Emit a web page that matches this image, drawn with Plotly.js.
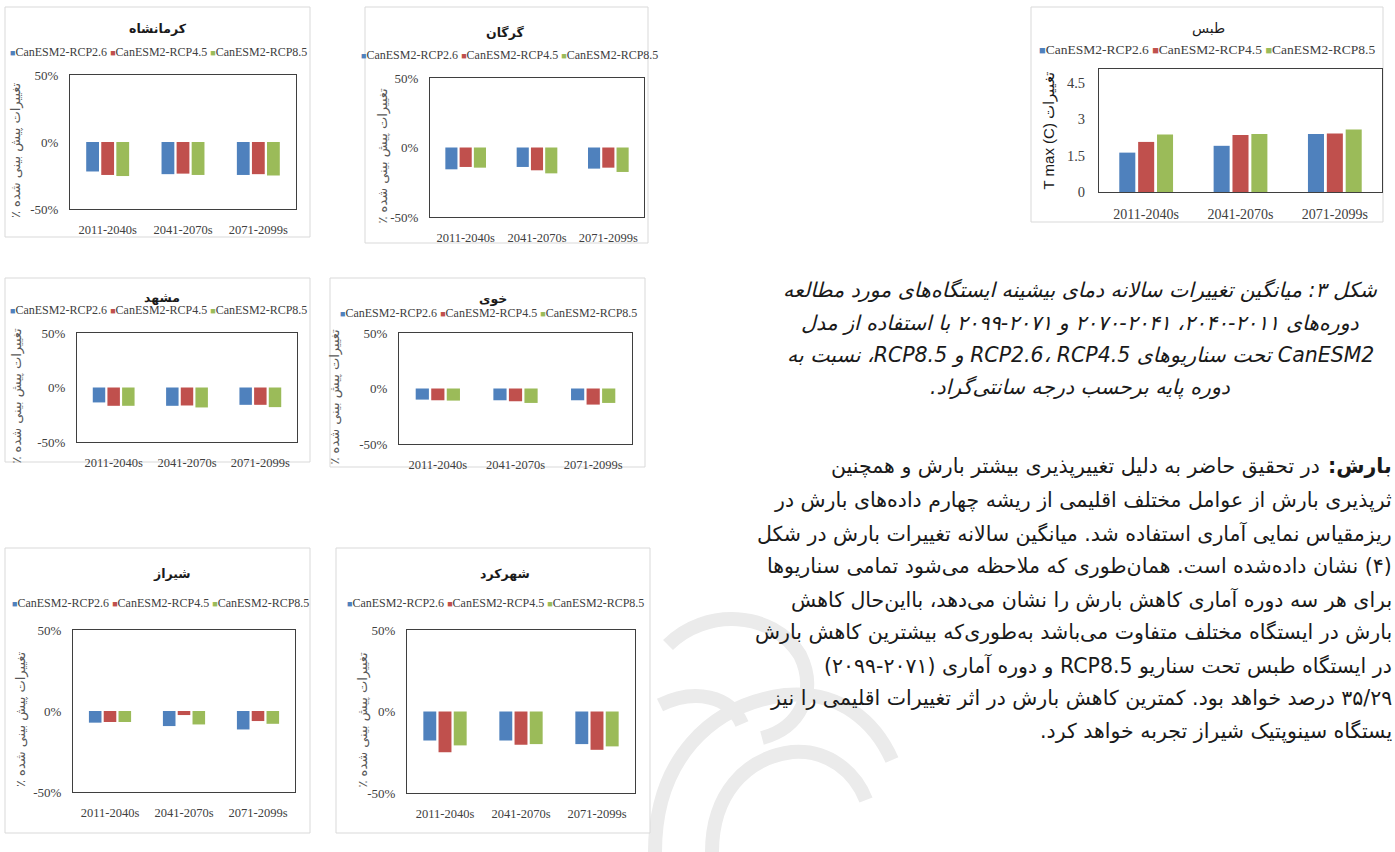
<!DOCTYPE html>
<html><head><meta charset="utf-8">
<script src="https://cdn.plot.ly/plotly-3.0.1.min.js"></script>
<style>html,body{margin:0;padding:0;background:#fff;overflow:hidden}#chart{width:1395px;height:852px}</style>
</head><body><div id="chart"></div>
<script>
const W = 1395, H = 852;

// ---- data ----
const periods = ['2011-2040s', '2041-2070s', '2071-2099s'];
const scenarios = ['CanESM2-RCP2.6', 'CanESM2-RCP4.5', 'CanESM2-RCP8.5'];
// each station: [RCP2.6 values, RCP4.5 values, RCP8.5 values] per period
const kermanshah = [[-22, -24, -24.6], [-24.6, -23.6, -24], [-25.4, -24.6, -25]];
const gorgan     = [[-15.7, -14, -15.2], [-14, -16.4, -14.5], [-14.5, -18.6, -17.6]];
const tabas      = [[1.62, 1.90, 2.39], [2.06, 2.34, 2.41], [2.37, 2.39, 2.57]];
const mashhad    = [[-13.7, -16.8, -15.9], [-16.8, -16.5, -15.9], [-16.8, -18.3, -18]];
const khoy       = [[-10, -10.6, -10.6], [-10.6, -11.5, -14.5], [-10.9, -13, -13]];
const shiraz     = [[-7.2, -9.3, -11.4], [-6.8, -2.5, -6.2], [-6.8, -8.3, -7.9]];
const shahrekord = [[-17.8, -17.8, -20], [-25, -20.4, -23.5], [-20.8, -20, -21.4]];

const pctTickVals = [-50, 0, 50];
const pctTickText = ['-50%', '0%', '50%'];
const tabasTickVals = [0, 1.5, 3, 4.5];
const tabasTickText = ['0', '1.5', '3', '4.5'];

const pctAxisTitle = 'تغییرات پیش بینی شده ٪';
const tabasAxisTitle = 'T max (C) تغییرات';

const captionLines = [
  'شکل ۳: میانگین تغییرات سالانه دمای بیشینه ایستگاه‌های مورد مطالعه',
  'دوره‌های ۲۰۱۱\u200F-\u200F۲۰۴۰، ۲۰۴۱\u200F-\u200F۲۰۷۰ و ۲۰۷۱\u200F-\u200F۲۰۹۹ با استفاده از مدل',
  'CanESM2 تحت سناریوهای RCP2.6، RCP4.5 و RCP8.5، نسبت به',
  'دوره پایه برحسب درجه سانتی‌گراد.'
];
const bodyLead = 'بارش:';
const bodyLines = [
  'در تحقیق حاضر به دلیل تغییرپذیری بیشتر بارش و همچنین',
  'ثرپذیری بارش از عوامل مختلف اقلیمی از ریشه چهارم داده‌های بارش در',
  'ریزمقیاس نمایی آماری استفاده شد. میانگین سالانه تغییرات بارش در شکل',
  '(۴) نشان داده‌شده است. همان‌طوری که ملاحظه می‌شود تمامی سناریوها',
  'برای هر سه دوره آماری کاهش بارش را نشان می‌دهد، بااین‌حال کاهش',
  'بارش در ایستگاه مختلف متفاوت می‌باشد به‌طوری‌که بیشترین کاهش بارش',
  'در ایستگاه طبس تحت سناریو RCP8.5 و دوره آماری (۲۰۷۱\u200F-\u200F۲۰۹۹)',
  '۳۵/۲۹ درصد خواهد بود. کمترین کاهش بارش در اثر تغییرات اقلیمی را نیز',
  'یستگاه سینوپتیک شیراز تجربه خواهد کرد.'
];

// ---- layout config (positions in px) ----
const colors = ['#4F81BD', '#C0504D', '#9BBB59'];
const panels = [
  {title: 'کرمانشاه', data: kermanshah, plot: [70, 75, 296, 209], card: [5, 7, 310, 237], tx: 158, ty: 28, lx: 158, ly: 52, yt: 16, pct: true},
  {title: 'گرگان', data: gorgan, plot: [430, 78, 644, 217], card: [365, 7, 648, 243], tx: 505, ty: 33, lx: 509, ly: 55, yt: 382, pct: true},
  {title: 'طبس', data: tabas, plot: [1099, 69, 1382, 192], card: [1031, 7, 1383, 222], tx: 1208, ty: 29, lx: 1207, ly: 50, yt: 1049, pct: false},
  {title: 'مشهد', data: mashhad, plot: [77, 333, 297, 442], card: [5, 278, 310, 462], tx: 162, ty: 297, lx: 158, ly: 310, yt: 17, pct: true},
  {title: 'خوی', data: khoy, plot: [399, 333, 632, 444], card: [330, 278, 645, 467], tx: 493, ty: 298, lx: 488, ly: 313, yt: 334, pct: true},
  {title: 'شیراز', data: shiraz, plot: [73, 630, 295, 792], card: [5, 548, 310, 833], tx: 172, ty: 573, lx: 160, ly: 603, yt: 21, pct: true},
  {title: 'شهرکرد', data: shahrekord, plot: [407, 630, 635, 793], card: [336, 548, 650, 833], tx: 505, ty: 573, lx: 495, ly: 603, yt: 362, pct: true}
];

const px = v => v / W;
const py = v => 1 - v / H;
const serif = 'Liberation Serif, Times New Roman, serif';
const fa = 'DejaVu Sans, sans-serif';

const traces = [];
const layout = {
  width: W, height: H,
  margin: {l: 0, r: 0, t: 0, b: 0},
  paper_bgcolor: '#ffffff', plot_bgcolor: '#ffffff',
  barmode: 'group', bargap: 0.4, bargroupgap: 0.15,
  showlegend: false,
  shapes: [], annotations: []
};

// faint watermark (background decoration)
const wm = [
  'M 655 852 C 655 760 710 705 785 695 C 840 690 875 722 892 760',
  'M 712 852 C 712 795 745 758 792 752 C 828 749 855 772 866 800',
  'M 668 645 C 705 608 772 610 800 655 C 818 692 800 728 762 738',
  'M 660 705 C 695 688 730 696 742 724'
];
wm.forEach(d => layout.shapes.push({type: 'path', xref: 'paper', yref: 'paper', layer: 'below',
  path: d.replace(/(\d+(?:\.\d+)?) (\d+(?:\.\d+)?)/g, (m, a, b) => px(+a) + ',' + py(+b)),
  line: {color: '#ebebeb', width: 14}}));

panels.forEach((p, i) => {
  const k = i + 1;
  const xa = 'xaxis' + (k === 1 ? '' : k), ya = 'yaxis' + (k === 1 ? '' : k);
  const xr = 'x' + (k === 1 ? '' : k), yr = 'y' + (k === 1 ? '' : k);
  const big = !p.pct;
  scenarios.forEach((s, j) => {
    traces.push({type: 'bar', x: periods, y: p.data[j], name: s, xaxis: xr, yaxis: yr,
      marker: {color: colors[j]}, hoverinfo: 'x+y+name'});
  });
  layout[xa] = {domain: [px(p.plot[0]), px(p.plot[2])], anchor: yr, type: 'category',
    showline: true, mirror: true, linecolor: '#3f3f3f', linewidth: 1, ticks: '',
    showgrid: false, zeroline: false, ticklabelstandoff: 9,
    tickfont: {family: serif, size: big ? 14 : 12.5, color: '#404040'}, fixedrange: true};
  layout[ya] = {domain: [py(p.plot[3]), py(p.plot[1])], anchor: xr,
    range: p.pct ? [-50, 50] : [0, 5.06],
    tickvals: p.pct ? pctTickVals : tabasTickVals,
    ticktext: p.pct ? pctTickText : tabasTickText,
    showline: true, mirror: true, linecolor: '#3f3f3f', linewidth: 1, ticks: '',
    showgrid: false, zeroline: false, ticklabelstandoff: big ? 10 : 8,
    tickfont: {family: serif, size: big ? 14.5 : 13, color: '#404040'}, fixedrange: true};
  // card
  layout.shapes.push({type: 'rect', xref: 'paper', yref: 'paper', layer: 'below',
    x0: px(p.card[0]), x1: px(p.card[2]), y0: py(p.card[3]), y1: py(p.card[1]),
    line: {color: '#d9d9d9', width: 1}, fillcolor: '#ffffff'});
  // title
  layout.annotations.push({xref: 'paper', yref: 'paper', x: px(p.tx), y: py(p.ty),
    xanchor: 'center', yanchor: 'middle', showarrow: false, text: p.title,
    font: {family: fa, size: big ? 14 : 12.5, color: '#1a1a1a', weight: big ? 'normal' : 'bold'}});
  // legend
  const sq = big ? 11 : 9;
  const legText = scenarios.map((s, j) =>
    '<span style="color:' + colors[j] + ';font-size:' + sq + 'px">■</span>' + s).join(' ');
  layout.annotations.push({xref: 'paper', yref: 'paper', x: px(p.lx), y: py(p.ly),
    xanchor: 'center', yanchor: 'middle', showarrow: false, text: legText,
    font: {family: serif, size: big ? 13.5 : 12, color: '#404040'}});
  // y axis title
  layout.annotations.push({xref: 'paper', yref: 'paper', x: px(p.yt),
    y: py((p.plot[1] + p.plot[3]) / 2 + (big ? 0 : 8)),
    xanchor: 'center', yanchor: 'middle', showarrow: false, textangle: -90,
    text: p.pct ? '\u202B' + pctAxisTitle + '\u202C' : tabasAxisTitle,
    font: {family: big ? 'Liberation Sans, Arial, sans-serif' : fa, size: big ? 15 : 13,
      color: big ? '#1a1a1a' : '#595959'}});
});

// caption
const capY = [290, 323, 355, 387];
captionLines.forEach((t, i) => {
  layout.annotations.push({xref: 'paper', yref: 'paper', x: px(1080), y: py(capY[i]),
    xanchor: 'center', yanchor: 'middle', showarrow: false, text: '\u202B' + t + '\u202C',
    font: {family: fa, size: 20.5, style: 'italic', color: '#1a1a1a'}});
});
// body
const bodyY = [466, 500, 533, 566, 599, 632, 665, 698, 731];
layout.annotations.push({xref: 'paper', yref: 'paper', x: px(1394), y: py(bodyY[0]),
  xanchor: 'right', yanchor: 'middle', showarrow: false, text: '\u202B' + bodyLead + '\u202C',
  font: {family: fa, size: 20.5, weight: 'bold', color: '#1a1a1a'}});
bodyLines.forEach((t, i) => {
  const xr = i === 0 ? 1322 : 1394;
  layout.annotations.push({xref: 'paper', yref: 'paper', x: px(xr), y: py(bodyY[i]),
    xanchor: 'right', yanchor: 'middle', showarrow: false, text: '\u202B' + t + '\u202C',
    font: {family: fa, size: 20.5, color: '#1a1a1a'}});
});

Plotly.newPlot('chart', traces, layout, {displayModeBar: false, staticPlot: true});
</script>
</body></html>
